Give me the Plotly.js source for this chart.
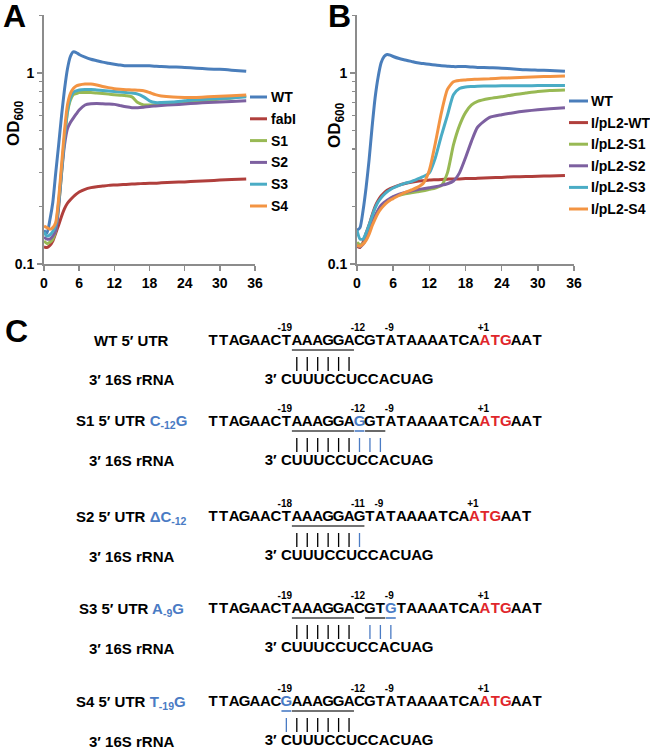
<!DOCTYPE html>
<html><head><meta charset="utf-8">
<script src="https://cdn.plot.ly/plotly-3.0.1.min.js"></script>
<style>html,body{margin:0;padding:0;background:#fff}#chart{width:650px;height:749px}</style>
</head><body><div id="chart"></div>
<script>
// ---------- growth-curve data (hours, OD600) ----------
const hours = [0,0.5,1,1.5,2,2.5,3,3.5,4,4.5,5,5.5,6,7,8,9,10,11,12,13,14,15,16,17,18,19,20,22,24,26,28,30,32,34.5];

const namesA = ["WT","fabI","S1","S2","S3","S4"];
const wtA   = [0.150,0.145,0.170,0.210,0.300,0.420,0.600,0.820,1.050,1.220,1.290,1.280,1.250,1.210,1.180,1.160,1.140,1.125,1.110,1.100,1.090,1.090,1.090,1.090,1.090,1.085,1.080,1.075,1.070,1.060,1.050,1.045,1.035,1.020];
const fabIA = [0.123,0.122,0.125,0.132,0.145,0.160,0.178,0.195,0.208,0.217,0.225,0.232,0.238,0.246,0.251,0.254,0.256,0.258,0.259,0.260,0.261,0.262,0.263,0.264,0.265,0.265,0.266,0.268,0.269,0.271,0.273,0.275,0.277,0.279];
const s1A   = [0.132,0.128,0.130,0.135,0.150,0.200,0.300,0.450,0.620,0.720,0.770,0.780,0.790,0.790,0.790,0.785,0.780,0.775,0.770,0.765,0.760,0.750,0.700,0.680,0.680,0.680,0.685,0.690,0.700,0.710,0.720,0.730,0.740,0.760];
const s2A   = [0.138,0.135,0.135,0.140,0.150,0.200,0.300,0.420,0.510,0.550,0.580,0.610,0.640,0.680,0.690,0.692,0.690,0.688,0.685,0.675,0.665,0.658,0.658,0.662,0.668,0.672,0.676,0.682,0.688,0.695,0.700,0.705,0.710,0.715];
const s3A   = [0.147,0.140,0.142,0.148,0.160,0.210,0.310,0.460,0.630,0.740,0.790,0.805,0.815,0.820,0.820,0.815,0.810,0.805,0.800,0.795,0.790,0.785,0.775,0.750,0.715,0.700,0.700,0.705,0.715,0.725,0.730,0.735,0.740,0.750];
const s4A   = [0.158,0.155,0.152,0.155,0.165,0.220,0.330,0.500,0.680,0.780,0.830,0.855,0.865,0.875,0.876,0.865,0.850,0.838,0.828,0.822,0.818,0.815,0.812,0.808,0.790,0.770,0.758,0.748,0.745,0.745,0.750,0.755,0.760,0.767];

const namesB = ["WT","I/pL2-WT","I/pL2-S1","I/pL2-S2","I/pL2-S3","I/pL2-S4"];
const wtB   = [0.150,0.155,0.190,0.250,0.350,0.520,0.740,0.950,1.130,1.220,1.250,1.240,1.220,1.190,1.170,1.150,1.130,1.120,1.110,1.100,1.090,1.085,1.080,1.080,1.080,1.075,1.070,1.065,1.060,1.050,1.040,1.035,1.030,1.020];
const pWtB  = [0.124,0.122,0.130,0.145,0.160,0.180,0.200,0.215,0.227,0.236,0.243,0.248,0.252,0.259,0.264,0.268,0.271,0.273,0.275,0.276,0.277,0.278,0.279,0.279,0.280,0.280,0.281,0.283,0.284,0.286,0.287,0.288,0.289,0.291];
const pS1B  = [0.130,0.126,0.128,0.135,0.148,0.163,0.178,0.190,0.200,0.207,0.213,0.219,0.224,0.229,0.233,0.236,0.239,0.242,0.246,0.250,0.258,0.300,0.420,0.530,0.620,0.680,0.710,0.735,0.750,0.770,0.785,0.800,0.810,0.815];
const pS2B  = [0.125,0.123,0.127,0.135,0.148,0.163,0.178,0.192,0.203,0.210,0.216,0.221,0.225,0.232,0.237,0.241,0.245,0.248,0.251,0.254,0.258,0.263,0.272,0.300,0.360,0.440,0.520,0.585,0.605,0.620,0.632,0.642,0.650,0.658];
const pS3B  = [0.150,0.135,0.135,0.145,0.160,0.178,0.196,0.211,0.222,0.231,0.239,0.245,0.250,0.258,0.265,0.270,0.278,0.287,0.300,0.360,0.470,0.600,0.770,0.830,0.845,0.850,0.853,0.855,0.857,0.858,0.858,0.859,0.860,0.860];
const pS4B  = [0.125,0.124,0.127,0.133,0.143,0.158,0.172,0.185,0.195,0.203,0.210,0.216,0.220,0.229,0.237,0.244,0.252,0.265,0.310,0.430,0.620,0.820,0.900,0.915,0.920,0.925,0.928,0.932,0.940,0.945,0.950,0.955,0.960,0.965];

const xTicks = [0,6,12,18,24,30,36];
const yTicks = [0.1,1];
const yTickText = ["0.1","1"];

// ---------- sequence panel data ----------
const rowLabels = ["WT 5′ UTR","S1 5′ UTR","S2 5′ UTR","S3 5′ UTR","S4 5′ UTR"];
const mutLabels = ["","C<sub>-12</sub>G","ΔC<sub>-12</sub>","A<sub>-9</sub>G","T<sub>-19</sub>G"];
const sequences = [
  "TTAGAACTAAAGGACGTATAAAATCAATGAAT",
  "TTAGAACTAAAGGAGGTATAAAATCAATGAAT",
  "TTAGAACTAAAGGAGTATAAAATCAATGAAT",
  "TTAGAACTAAAGGACGTGTAAAATCAATGAAT",
  "TTAGAACGAAAGGACGTATAAAATCAATGAAT"
];
const rRNA = "CUUUCCUCCACUAG";
const mutIndex = [-1,14,-1,17,7];
const atgStart = [26,26,25,26,26];
const posText = [["-19","-12","-9","+1"],["-19","-12","-9","+1"],["-18","-11","-9","+1"],["-19","-12","-9","+1"],["-19","-12","-9","+1"]];
const posIndex = [[7,14,17,26],[7,14,17,26],[7,14,16,25],[7,14,17,26],[7,14,17,26]];
const underBlack = [[[8,13]],[[8,13],[15,16]],[[8,14]],[[8,13],[15,16]],[[8,13]]];
const underBlue  = [[],[[14,14]],[],[[17,17]],[[7,7]]];
const pairBlack  = [[8,9,10,11,12,13],[8,9,10,11,12,13],[8,9,10,11,12,13],[8,9,10,11,12,13],[8,9,10,11,12,13]];
const pairBlue   = [[],[14,15,16],[14],[15,16,17],[7]];

// ---------- styling ----------
const FONT = "Liberation Sans, Arial, sans-serif";
const colors = ["#4a7ebb","#b03f3c","#98b954","#7d60a0","#4aacc5","#f39443"];
const BLUE = "#4a7bc4", RED = "#e0262b";
const AX = "#8c8c8c";
const W = 650, H = 749;
const px = v => v / W, py = v => 1 - v / H;

const traces = [];
const seriesA = [wtA,fabIA,s1A,s2A,s3A,s4A];
const seriesB = [wtB,pWtB,pS1B,pS2B,pS3B,pS4B];
seriesA.forEach((ys,k)=>traces.push({type:"scatter",mode:"lines",x:hours,y:ys,name:namesA[k],
  line:{color:colors[k],width:3,shape:"spline",smoothing:0.6},xaxis:"x",yaxis:"y",showlegend:false,hoverinfo:"skip"}));
seriesB.forEach((ys,k)=>traces.push({type:"scatter",mode:"lines",x:hours,y:ys,name:namesB[k],
  line:{color:colors[k],width:3,shape:"spline",smoothing:0.6},xaxis:"x2",yaxis:"y2",showlegend:false,hoverinfo:"skip"}));

// sequence panel (x3 = character index, y3 = vertical position)
const blockY = [341,422,517,609,702];
const RR = 39;   // offset of the 16S rRNA line below its UTR line
const txt = (x,y,t,c,s)=>({type:"scatter",mode:"text",x:x,y:y,text:t,
  textfont:{family:FONT,size:s,color:c,weight:"bold"},textposition:"middle center",
  xaxis:"x3",yaxis:"y3",cliponaxis:false,showlegend:false,hoverinfo:"skip"});
const segTrace = (xs,ys,c,w)=>({type:"scatter",mode:"lines",x:xs,y:ys,line:{color:c,width:w},
  xaxis:"x3",yaxis:"y3",cliponaxis:false,showlegend:false,hoverinfo:"skip",connectgaps:false});

const annotations = [];
sequences.forEach((seq,r)=>{
  const Y = blockY[r];
  const chars = [...seq];
  const xi = chars.map((c,i)=>i);
  const col = chars.map((c,i)=> (i>=atgStart[r] && i<atgStart[r]+3) ? RED : (i===mutIndex[r] ? BLUE : "#000"));
  traces.push(txt(xi, xi.map(()=>Y), chars, col, 15));
  traces.push(txt(posIndex[r].map(i=>i-0.15), posIndex[r].map(()=>Y-13), posText[r], "#000", 10));
  // underlines
  const ub = {x:[],y:[]}, uu = {x:[],y:[]};
  underBlack[r].forEach(([a,b])=>{ub.x.push(a-0.47,b+0.47,null);ub.y.push(Y+9,Y+9,null);});
  underBlue[r].forEach(([a,b])=>{uu.x.push(a-0.47,b+0.47,null);uu.y.push(Y+9,Y+9,null);});
  traces.push(segTrace(ub.x,ub.y,"#444",1.6));
  if (uu.x.length) traces.push(segTrace(uu.x,uu.y,BLUE,1.6));
  // pairing bars
  const pb = {x:[],y:[]}, pu = {x:[],y:[]};
  pairBlack[r].forEach(i=>{pb.x.push(i,i,null);pb.y.push(Y+16,Y+30,null);});
  pairBlue[r].forEach(i=>{pu.x.push(i,i,null);pu.y.push(Y+16,Y+30,null);});
  traces.push(segTrace(pb.x,pb.y,"#000",1.3));
  if (pu.x.length) traces.push(segTrace(pu.x,pu.y,BLUE,1.3));
  // rRNA line
  const rc = [...rRNA];
  traces.push(txt([5.5].concat(rc.map((c,j)=>7+j*1.04)), [Y+RR].concat(rc.map(()=>Y+RR)), ["3′"].concat(rc), "#000", 15));
  // row labels
  const lab = "<b>" + rowLabels[r] + (mutLabels[r] ? ' <span style="color:'+BLUE+'">'+mutLabels[r]+'</span>' : "") + "</b>";
  annotations.push({text:lab,xref:"paper",yref:"y3",x:px(131),y:Y,xanchor:"center",yanchor:"middle",showarrow:false,font:{family:FONT,size:15,color:"#000"}});
  annotations.push({text:"<b>3′ 16S rRNA</b>",xref:"paper",yref:"y3",x:px(131),y:Y+RR,xanchor:"center",yanchor:"middle",showarrow:false,font:{family:FONT,size:15,color:"#000"}});
});

// panel letters
[["A",1,16],["B",326,16],["C",3,331]].forEach(([t,x,y])=>annotations.push({text:"<b>"+t+"</b>",xref:"paper",yref:"paper",x:px(x),y:py(y),xanchor:"left",yanchor:"middle",showarrow:false,font:{family:FONT,size:32,color:"#000"}}));
// y-axis titles
[[15,123],[336,125]].forEach(([x,y])=>annotations.push({text:"<b>OD<sub>600</sub></b>",xref:"paper",yref:"paper",x:px(x),y:py(y),xanchor:"center",yanchor:"middle",textangle:-90,showarrow:false,font:{family:FONT,size:17,color:"#000"}}));

// legends (drawn beside each panel)
const shapes = [];
namesA.forEach((n,k)=>{const y=97+21.8*k;
  shapes.push({type:"line",xref:"paper",yref:"paper",x0:px(250),x1:px(267),y0:py(y),y1:py(y),line:{color:colors[k],width:3}});
  annotations.push({text:"<b>"+n+"</b>",xref:"paper",yref:"paper",x:px(269),y:py(y),xanchor:"left",yanchor:"middle",showarrow:false,font:{family:FONT,size:14,color:"#000"}});
});
namesB.forEach((n,k)=>{const y=101+21.6*k;
  shapes.push({type:"line",xref:"paper",yref:"paper",x0:px(569),x1:px(588),y0:py(y),y1:py(y),line:{color:colors[k],width:3}});
  annotations.push({text:"<b>"+n+"</b>",xref:"paper",yref:"paper",x:px(589),y:py(y),xanchor:"left",yanchor:"middle",showarrow:false,font:{family:FONT,size:14,color:"#000"}});
});

const xAx = d=>({domain:d,range:[0,36],tickvals:xTicks,ticks:"outside",ticklen:5,tickwidth:1.5,tickcolor:AX,
  showline:true,linecolor:AX,linewidth:2,showgrid:false,zeroline:false,fixedrange:true,
  tickfont:{family:FONT,size:14,color:"#000",weight:"bold"}});
const yAx = ()=>({domain:[py(264),py(15)],type:"log",range:[-1,0.3036],tickvals:yTicks,ticktext:yTickText,
  ticks:"outside",ticklen:5,tickwidth:1.5,tickcolor:AX,showline:true,linecolor:AX,linewidth:2,
  showgrid:false,zeroline:false,fixedrange:true,tickfont:{family:FONT,size:14,color:"#000",weight:"bold"},
  minor:{tickvals:[0.2,0.3,0.4,0.5,0.6,0.7,0.8,0.9,2],ticks:"outside",ticklen:3,tickcolor:AX,tickwidth:1.2,showgrid:false}});

const layout = {
  width:W,height:H,margin:{l:0,r:0,t:0,b:0},paper_bgcolor:"#fff",plot_bgcolor:"rgba(0,0,0,0)",
  showlegend:false,font:{family:FONT,color:"#000"},
  xaxis:Object.assign(xAx([px(44),px(255)]),{anchor:"y"}),
  yaxis:Object.assign(yAx(),{anchor:"x"}),
  xaxis2:Object.assign(xAx([px(357),px(574)]),{anchor:"y2"}),
  yaxis2:Object.assign(yAx(),{anchor:"x2"}),
  xaxis3:{domain:[0,1],range:[-20.402,41.799],visible:false,fixedrange:true,anchor:"y3"},
  yaxis3:{domain:[0,py(300)],range:[749,300],visible:false,fixedrange:true,anchor:"x3"},
  annotations:annotations,shapes:shapes
};
Plotly.newPlot("chart",traces,layout,{displayModeBar:false,staticPlot:true});
</script></body></html>
